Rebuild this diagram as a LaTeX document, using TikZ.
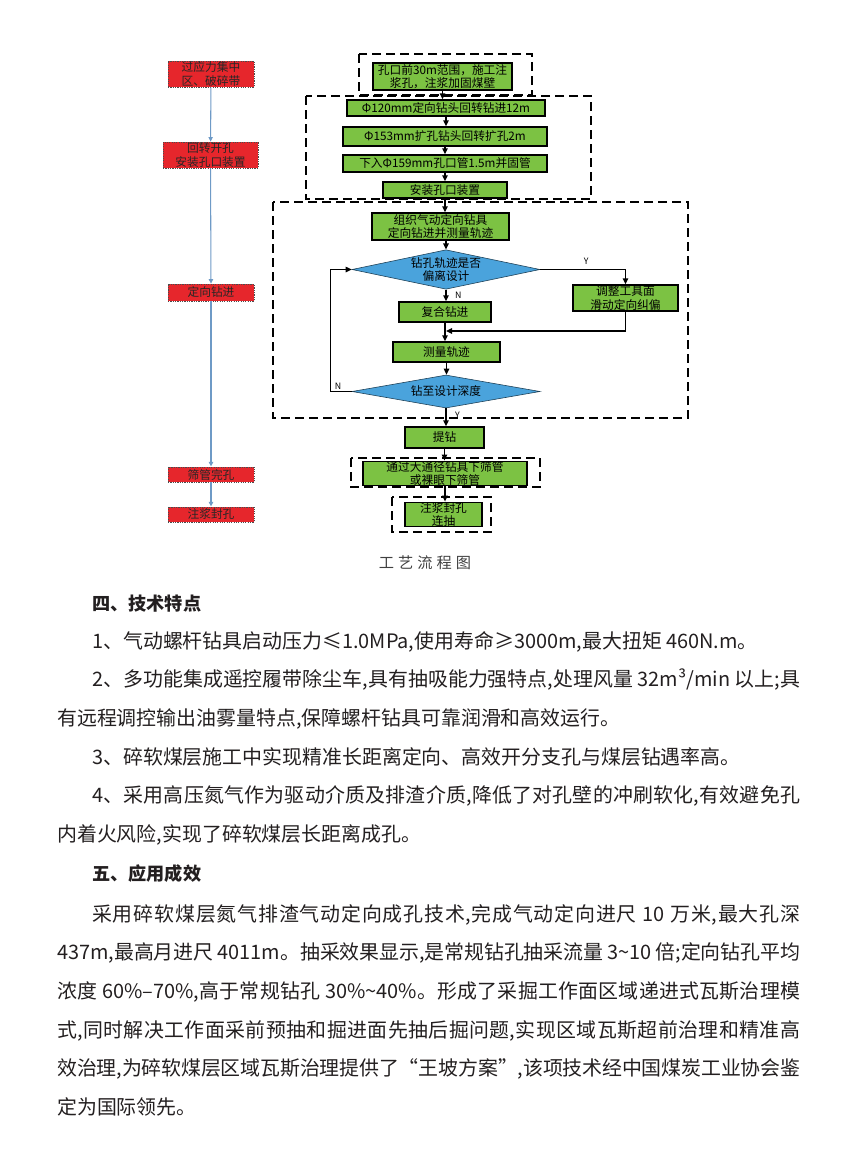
\documentclass[tikz,border=0pt]{standalone}
\usepackage{fontspec}
\setmainfont{Noto Sans CJK SC}
\usetikzlibrary{arrows.meta,positioning,shapes.geometric}
\definecolor{alarmred}{HTML}{E6262C}
\definecolor{stepgreen}{HTML}{7CC243}
\definecolor{checkblue}{HTML}{4AA3DC}
\definecolor{sideline}{HTML}{6E9AC6}
\definecolor{ink}{HTML}{231F20}
\XeTeXlinebreaklocale "zh"
\XeTeXlinebreakskip=0pt plus 1pt minus 0.3pt

\begin{document}
\begin{tikzpicture}[
  x=0.3mm, y=-0.3mm,
  redstep/.style={draw=black!70, dash pattern=on 1pt off 1pt, line width=0.5pt, fill=alarmred, align=center, font=\fontsize{10pt}{11.5pt}\selectfont, text=black!85, inner sep=0pt, minimum width=25.8mm},
  greenstep/.style={draw=black, line width=1.2pt, fill=stepgreen, align=center, font=\fontsize{10pt}{11.5pt}\selectfont, inner sep=0pt},
  decision/.style={diamond, draw=black!60!checkblue, line width=0.5pt, fill=checkblue, align=center, font=\fontsize{10pt}{11.5pt}\selectfont, inner sep=0pt, aspect=4.65, minimum width=56.4mm},
  group/.style={draw=black, line width=1.4pt, dash pattern=on 2.6mm off 1.6mm},
  flow/.style={-{Triangle[length=1.8mm,width=1.6mm]}, line width=1.2pt, draw=black},
  sideflow/.style={-{Triangle[length=1.4mm,width=1.3mm]}, line width=0.9pt, draw=sideline},
  lab/.style={font=\fontsize{7.5pt}{8pt}\selectfont, inner sep=1pt},
  heading/.style={font=\fontsize{15.5pt}{18pt}\selectfont\bfseries, text=ink, inner sep=0pt, anchor=base west},
  bodytext/.style={font=\fontsize{17pt}{11.6mm}\selectfont, text=ink, text width=222.9mm, align=justify, inner sep=0pt, anchor=base west}
]
\useasboundingbox (0,0) rectangle (850,1163);

% left column: hazard stages
\node[redstep, minimum height=7.8mm] (zone) at (211,74) {过应力集中\\区、破碎带};
\node[redstep, minimum width=28.5mm, minimum height=7.8mm] (open) at (210.5,155) {回转开孔\\安装孔口装置};
\node[redstep, minimum height=5.1mm] (orient) at (211,292.5) {定向钻进};
\node[redstep, minimum height=4.6mm] (screen) at (211,474.5) {筛管完孔};
\node[redstep, minimum height=4.6mm] (seal) at (211,514.5) {注浆封孔};

\draw[sideflow] (zone)--(open);
\draw[sideflow] (open)--(orient);
\draw[sideflow] (orient)--(screen);
\draw[sideflow] (screen)--(seal);

% dashed groups
\draw[group] (359,54) rectangle (532,95);
\draw[group] (306,96) rectangle (591,199);
\draw[group] (273,202) rectangle (688,418);
\draw[group] (351,458) rectangle (540,487);
\draw[group] (392,497) rectangle (491,532);

% main column
\node[greenstep, minimum width=41.7mm, minimum height=8.1mm] (grout) at (442.5,76.5) {孔口前30m范围，施工注\\浆孔，注浆加固煤壁};
\node[greenstep, minimum width=59.4mm, minimum height=4.8mm] (pilot) at (446,108) {Φ120mm定向钻头回转钻进12m};
\node[greenstep, minimum width=61.2mm, minimum height=5.7mm] (ream) at (445,136.5) {Φ153mm扩孔钻头回转扩孔2m};
\node[greenstep, minimum width=61.2mm, minimum height=5.1mm] (casing) at (445,163.5) {下入Φ159mm孔口管1.5m并固管};
\node[greenstep, minimum width=37.2mm, minimum height=4.8mm] (device) at (445,190) {安装孔口装置};
\node[greenstep, minimum width=41.1mm, minimum height=8.1mm] (drill) at (440.5,226.5) {组织气动定向钻具\\定向钻进并测量轨迹};
\node[decision, minimum height=11.7mm] (offtrack) at (446,269.5) {钻孔轨迹是否\\偏离设计};
\node[greenstep, minimum width=27.6mm, minimum height=6mm] (combo) at (445,312) {复合钻进};
\node[greenstep, minimum width=31.5mm, minimum height=7.8mm] (correct) at (625.5,298) {调整工具面\\滑动定向纠偏};
\node[greenstep, minimum width=32.1mm, minimum height=6mm] (survey) at (446.5,352) {测量轨迹};
\node[decision, minimum height=9.9mm] (depth) at (446,391.5) {钻至设计深度};
\node[greenstep, minimum width=23.7mm, minimum height=6.3mm] (pull) at (444.5,437.5) {提钻};
\node[greenstep, minimum width=49.2mm, minimum height=6.3mm] (screenpipe) at (445,473.5) {通过大通径钻具下筛管\\或裸眼下筛管};
\node[greenstep, minimum width=23.1mm, minimum height=6.9mm] (sealing) at (443.5,514.5) {注浆封孔\\连抽};
\coordinate (merge) at (446,331);

\draw[flow] (grout.south)--(grout.south |- pilot.north);
\draw[flow] (pilot.south)--(pilot.south |- ream.north);
\draw[flow] (ream.south)--(ream.south |- casing.north);
\draw[flow] (casing.south)--(casing.south |- device.north);
\draw[flow] (device.south)--(device.south |- drill.north);
\draw[flow] (offtrack.north |- drill.south)--(offtrack.north);
\draw[flow] (offtrack.south)-- node[lab, right=2.2mm, pos=0.45] {N} (offtrack.south |- combo.north);
\draw[flow] (offtrack.east) -| node[lab, above=0.8mm, pos=0.27] {Y} (correct.north);
\draw[flow] (correct.south) |- (merge);
\draw[flow] (combo.south)--(combo.south |- survey.north);
\draw[flow] (survey.south)--(survey.south |- depth.north);
\draw[flow] (depth.west)-- node[lab, above, pos=0.65] {N} ++(-21,0) |- (offtrack.west);
\draw[flow] (depth.south)-- node[lab, right=2.2mm, pos=0.37] {Y} (depth.south |- pull.north);
\draw[flow] (pull.south)--(pull.south |- screenpipe.north);
\draw[flow] (screenpipe.south)--(screenpipe.south |- sealing.north);

\node[font=\fontsize{13pt}{15pt}\selectfont, text=black!75] (caption) at (425,563) {工\hspace{1.2mm}艺\hspace{1.2mm}流\hspace{1.2mm}程\hspace{1.2mm}图};

% text below the chart
\node[heading] (feathead) at (92,610) {四、技术特点};
\node[bodytext] (feats) at (57,648) {\hspace*{10.5mm}1、气动螺杆钻具启动压力≤1.0MPa,使用寿命≥3000m,最大扭矩 460N.m。\par
\hspace*{10.5mm}2、多功能集成遥控履带除尘车,具有抽吸能力强特点,处理风量 32m³/min 以上;具\linebreak 有远程调控输出油雾量特点,保障螺杆钻具可靠润滑和高效运行。\par
\hspace*{10.5mm}3、碎软煤层施工中实现精准长距离定向、高效开分支孔与煤层钻遇率高。\par
\hspace*{10.5mm}4、采用高压氮气作为驱动介质及排渣介质,降低了对孔壁的冲刷软化,有效避免孔\linebreak 内着火风险,实现了碎软煤层长距离成孔。};

\node[heading] (usehead) at (92,880) {五、应用成效};
\node[bodytext] (effect) at (57,921) {\hspace*{10.5mm}采用碎软煤层氮气排渣气动定向成孔技术,完成气动定向进尺 10 万米,最大孔深\linebreak 437m,最高月进尺 4011m。抽采效果显示,是常规钻孔抽采流量 3\textasciitilde10 倍;定向钻孔平均\linebreak 浓度 60\%–70\%,高于常规钻孔 30\%\textasciitilde40\%。形成了采掘工作面区域递进式瓦斯治理模\linebreak 式,同时解决工作面采前预抽和掘进面先抽后掘问题,实现区域瓦斯超前治理和精准高\linebreak 效治理,为碎软煤层区域瓦斯治理提供了“王坡方案”,该项技术经中国煤炭工业协会鉴\linebreak 定为国际领先。};
\end{tikzpicture}
\end{document}
